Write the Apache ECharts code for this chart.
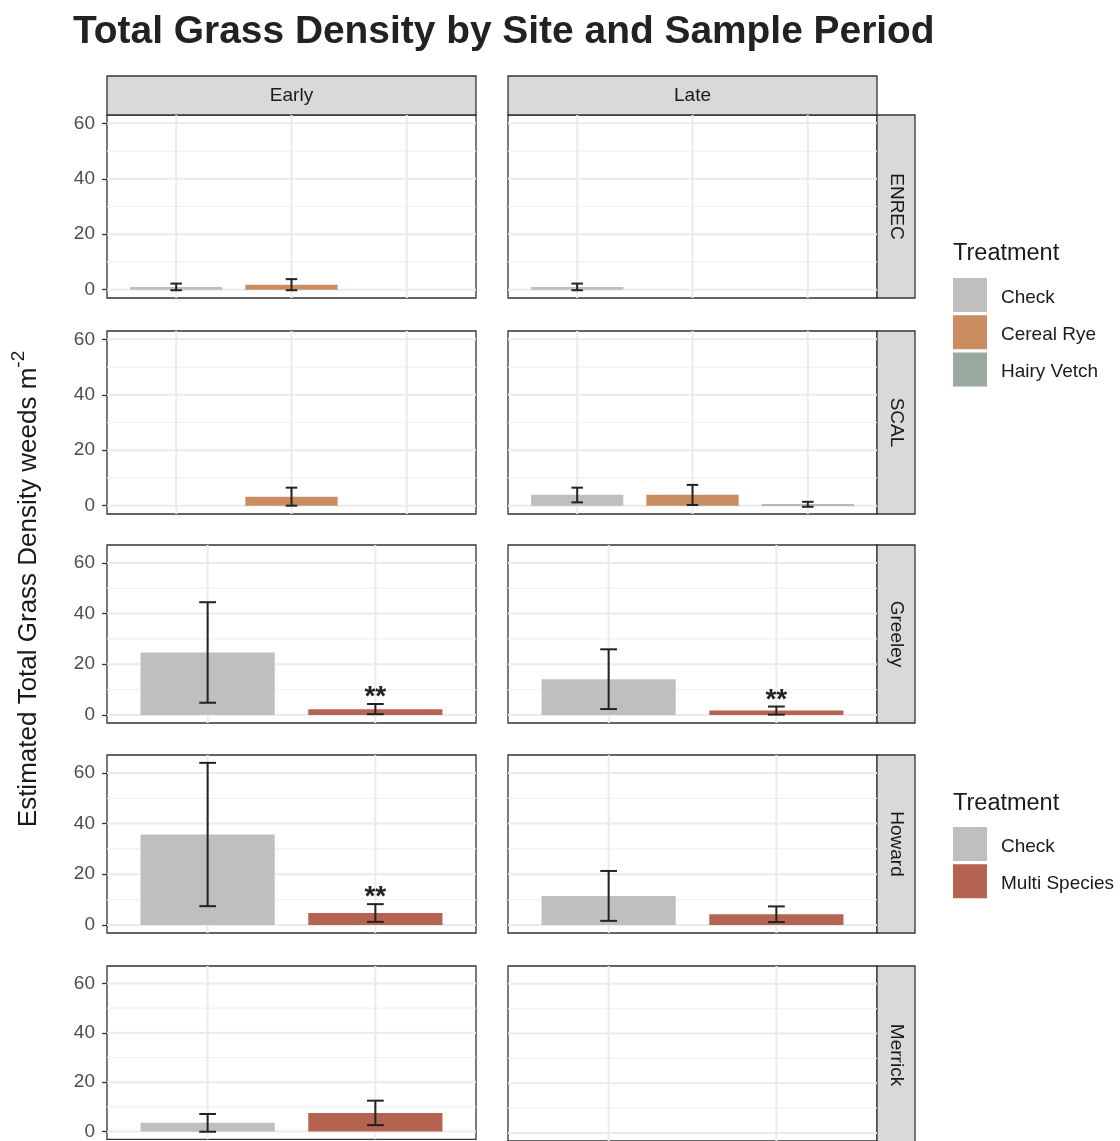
<!DOCTYPE html>
<html><head><meta charset="utf-8">
<script src="https://cdn.jsdelivr.net/npm/echarts@6/dist/echarts.min.js"></script>
<style>html,body{margin:0;padding:0;background:#fff}#c{width:1120px;height:1141px}</style>
</head><body><div id="c"></div>
<script>
// ---------- data ----------
const periods = ['Early', 'Late'];
const sitesTop = ['ENREC', 'SCAL'];
const sitesBottom = ['Greeley', 'Howard', 'Merrick'];
const treatmentsTop = ['Check', 'Cereal Rye', 'Hairy Vetch'];
const treatmentsBottom = ['Check', 'Multi Species'];
const yTickValues = [0, 20, 40, 60];
const yMinorValues = [10, 30, 50];
// each entry: [mean, lower, upper] in treatment order (null = no bar)
const enrecEarly   = [[1.0, -0.2, 2.2], [1.8, -0.2, 3.8], null];
const enrecLate    = [[1.0, -0.2, 2.2], null, null];
const scalEarly    = [null, [3.2, 0.0, 6.5], null];
const scalLate     = [[3.9, 1.2, 6.5], [3.9, 0.25, 7.5], [0.5, -0.4, 1.4]];
const greeleyEarly = [[24.6, 4.8, 44.5], [2.2, 0.3, 4.3]];
const greeleyLate  = [[14.1, 2.3, 25.9], [1.7, 0.1, 3.3]];
const howardEarly  = [[35.7, 7.4, 64.0], [4.7, 1.2, 8.2]];
const howardLate   = [[11.4, 1.6, 21.3], [4.2, 1.1, 7.3]];
const merrickEarly = [[3.5, -0.1, 7.1], [7.5, 2.6, 12.5]];
const merrickLate  = [null, null];
const sigGreeleyEarly = [null, '**'];
const sigGreeleyLate  = [null, '**'];
const sigHowardEarly  = [null, '**'];
const treatmentColors = {
  'Check': '#c0bfbd', 'Cereal Rye': '#c98d61', 'Hairy Vetch': '#98a99f', 'Multi Species': '#b66452'
};
const titleText = 'Total Grass Density by Site and Sample Period';
const yTitleMain = 'Estimated Total Grass Density weeds m';
const yTitleSup = '-2';
const legendTitle = 'Treatment';

// ---------- layout ----------
const FONT = 'Liberation Sans, Arial, Helvetica, sans-serif';
const colLeft = [107, 508];
const colWidth = 369;
const rowTop = { ENREC: 115, SCAL: 331, Greeley: 545, Howard: 755, Merrick: 966 };
const blocks = {
  top: { sites: sitesTop, trts: treatmentsTop, h: 183, yMin: -3, yMax: 63 },
  bottom: { sites: sitesBottom, trts: treatmentsBottom, h: 178, yMin: -3.2, yMax: 67.1 }
};
const panelData = {
  ENREC: [enrecEarly, enrecLate], SCAL: [scalEarly, scalLate],
  Greeley: [greeleyEarly, greeleyLate], Howard: [howardEarly, howardLate], Merrick: [merrickEarly, merrickLate]
};
const panelSig = { Greeley: [sigGreeleyEarly, sigGreeleyLate], Howard: [sigHowardEarly, null] };

const grids = [], xAxes = [], yAxes = [], series = [], graphics = [];

function gridRender(params, api) {
  const kind = api.value(0), v = api.value(1);
  const cs = params.coordSys;
  if (kind === 2) {
    const px = api.coord([v, 0])[0];
    return { type: 'line', shape: { x1: px, y1: cs.y, x2: px, y2: cs.y + cs.height }, style: { stroke: '#ebebeb', lineWidth: 2 } };
  }
  const py = api.coord([1, v])[1];
  return { type: 'line', shape: { x1: cs.x, y1: py, x2: cs.x + cs.width, y2: py },
    style: { stroke: kind === 0 ? '#ebebeb' : '#f1f1f1', lineWidth: kind === 0 ? 2 : 1.2 } };
}

function makeBarRender(sigLabels) {
  return function (params, api) {
    const x = api.value(0), m = api.value(1), lo = api.value(2), hi = api.value(3);
    const p0 = api.coord([x - 0.4, 0]), p1 = api.coord([x + 0.4, m]);
    const top = api.coord([x, hi]), bot = api.coord([x, lo]);
    const cl = api.coord([x - 0.05, hi])[0], cr = api.coord([x + 0.05, hi])[0];
    const es = { stroke: '#222', lineWidth: 2 };
    const children = [
      { type: 'rect', shape: { x: p0[0], y: Math.min(p0[1], p1[1]), width: p1[0] - p0[0], height: Math.abs(p0[1] - p1[1]) }, style: { fill: api.visual('color') } },
      { type: 'line', shape: { x1: top[0], y1: top[1], x2: bot[0], y2: bot[1] }, style: es },
      { type: 'line', shape: { x1: cl, y1: top[1], x2: cr, y2: top[1] }, style: es },
      { type: 'line', shape: { x1: cl, y1: bot[1], x2: cr, y2: bot[1] }, style: es }
    ];
    const s = sigLabels && sigLabels[params.dataIndex];
    if (s) {
      children.push({ type: 'text', x: top[0], y: top[1] - 6.5, style: { text: s, fill: '#222', font: 'bold 28px ' + FONT, align: 'center', verticalAlign: 'middle' } });
    }
    return { type: 'group', children };
  };
}

let gi = 0;
['top', 'bottom'].forEach(bk => {
  const b = blocks[bk];
  b.sites.forEach(site => {
    periods.forEach((per, ci) => {
      grids.push({ left: colLeft[ci], top: rowTop[site], width: colWidth, height: b.h, show: true,
        borderColor: '#333', borderWidth: 1.3, containLabel: false });
      xAxes.push({ type: 'value', gridIndex: gi, min: 0.4, max: b.trts.length + 0.6, show: false });
      yAxes.push({ type: 'value', gridIndex: gi, min: b.yMin, max: b.yMax,
        axisLine: { show: false }, splitLine: { show: false },
        axisTick: { show: ci === 0, length: 5, lineStyle: { color: '#333', width: 1.3 }, customValues: yTickValues },
        axisLabel: { show: ci === 0, customValues: yTickValues, margin: 12, fontSize: 19, color: '#4d4d4d', fontFamily: FONT } });
      const gl = [];
      yTickValues.forEach(v => gl.push([0, v]));
      yMinorValues.forEach(v => gl.push([1, v]));
      b.trts.forEach((t, i) => gl.push([2, i + 1]));
      series.push({ type: 'custom', xAxisIndex: gi, yAxisIndex: gi, silent: true, z: 1, data: gl, renderItem: gridRender, clip: true });
      const pd = panelData[site][ci];
      const sig = panelSig[site] ? panelSig[site][ci] : null;
      b.trts.forEach((t, ti) => {
        const d = pd[ti];
        series.push({ type: 'custom', name: t, xAxisIndex: gi, yAxisIndex: gi, z: 3, silent: true,
          itemStyle: { color: treatmentColors[t] },
          data: d ? [[ti + 1, d[0], d[1], d[2]]] : [],
          renderItem: makeBarRender(sig ? [sig[ti]] : null) });
      });
      gi++;
    });
    graphics.push({ type: 'rect', shape: { x: 877, y: rowTop[site], width: 38, height: b.h }, style: { fill: '#d9d9d9', stroke: '#333', lineWidth: 1.3 } });
    graphics.push({ type: 'text', x: 896, y: rowTop[site] + b.h / 2, rotation: -Math.PI / 2,
      style: { text: site, font: '19px ' + FONT, fill: '#1a1a1a', align: 'center', verticalAlign: 'middle' } });
  });
});

periods.forEach((per, ci) => {
  graphics.push({ type: 'rect', shape: { x: colLeft[ci], y: 76, width: colWidth, height: 39 }, style: { fill: '#d9d9d9', stroke: '#333', lineWidth: 1.3 } });
  graphics.push({ type: 'text', x: colLeft[ci] + colWidth / 2, y: 95.5,
    style: { text: per, font: '19px ' + FONT, fill: '#1a1a1a', align: 'center', verticalAlign: 'middle' } });
});

// title
graphics.push({ type: 'text', x: 73, y: 32, style: { text: titleText,
  font: 'bold 38.9px ' + FONT, fill: '#222', align: 'left', verticalAlign: 'middle' } });

// y axis title with superscript
const mctx = document.createElement('canvas').getContext('2d');
const mainFont = '26px ' + FONT, supFont = '19px ' + FONT;
mctx.font = mainFont; const wMain = mctx.measureText(yTitleMain).width;
mctx.font = supFont; const wSup = mctx.measureText(yTitleSup).width;
const yTitleCenter = 589, yTitleX = 29;
const yStart = yTitleCenter + (wMain + wSup) / 2;
graphics.push({ type: 'text', x: yTitleX, y: yStart, rotation: Math.PI / 2,
  style: { text: yTitleMain, font: mainFont, fill: '#1a1a1a', align: 'left', verticalAlign: 'middle' } });
graphics.push({ type: 'text', x: yTitleX - 10, y: yStart - wMain, rotation: Math.PI / 2,
  style: { text: yTitleSup, font: supFont, fill: '#1a1a1a', align: 'left', verticalAlign: 'middle' } });

// legend titles
graphics.push({ type: 'text', x: 953, y: 254, style: { text: legendTitle, font: '23.5px ' + FONT, fill: '#1a1a1a', align: 'left', verticalAlign: 'middle' } });
graphics.push({ type: 'text', x: 953, y: 804, style: { text: legendTitle, font: '23.5px ' + FONT, fill: '#1a1a1a', align: 'left', verticalAlign: 'middle' } });

const legendCommon = { orient: 'vertical', left: 953, padding: 0, itemWidth: 34, itemHeight: 34, itemGap: 3.3,
  icon: 'rect', selectedMode: false, formatter: '{a|{name}}',
  textStyle: { fontSize: 19, color: '#1a1a1a', fontFamily: FONT,
    rich: { a: { fontSize: 19, color: '#1a1a1a', fontFamily: FONT, padding: [5, 0, 0, 9] } } } };

const chart = echarts.init(document.getElementById('c'), null, { renderer: 'canvas' });
chart.setOption({
  backgroundColor: '#fff',
  animation: false,
  grid: grids, xAxis: xAxes, yAxis: yAxes, series: series,
  legend: [
    Object.assign({}, legendCommon, { top: 278, data: treatmentsTop }),
    Object.assign({}, legendCommon, { top: 827, data: treatmentsBottom })
  ],
  graphic: graphics
});
</script></body></html>
